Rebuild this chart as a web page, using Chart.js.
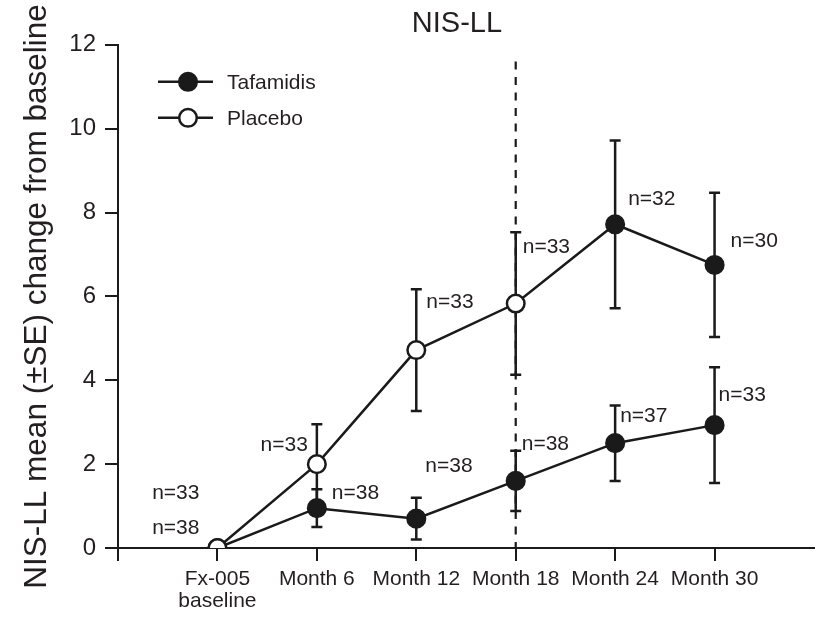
<!DOCTYPE html>
<html><head><meta charset="utf-8">
<script src="https://cdn.jsdelivr.net/npm/chart.js@4.4.1/dist/chart.umd.min.js"></script>
<style>html,body{margin:0;padding:0;background:#fff}#wrap{width:820px;height:620px}</style>
</head><body><div id="wrap"><canvas id="c" width="820" height="620"></canvas></div>
<script>
// ---- data ----
const categories = [['Fx-005', 'baseline'], 'Month 6', 'Month 12', 'Month 18', 'Month 24', 'Month 30'];
const tafamidisMean = [0, 0.95, 0.70, 1.60, 2.50, 2.93];
const tafamidisSE   = [0, 0.45, 0.50, 0.72, 0.90, 1.38];
const placeboMean   = [0, 2.00, 4.72, 5.83, 7.72, 6.75];
const placeboSE     = [0, 0.95, 1.45, 1.70, 2.00, 1.72];
const tafamidisN = ['n=38', 'n=38', 'n=38', 'n=38', 'n=37', 'n=33'];
const placeboN   = ['n=33', 'n=33', 'n=33', 'n=33', 'n=32', 'n=30'];
const yTicks = [0, 2, 4, 6, 8, 10, 12];
const switchIndex = 3;      // Month 18: placebo patients switched to tafamidis
const switchLineTop = 11.6; // top of dashed line, in y units

// ---- style ----
const INK = '#1a1a1a';
const TXT = '#231f20';
const FONT = "'Liberation Sans', Arial, Helvetica, sans-serif";
const nLabelOffsets = {
  placebo:   [[-18, -55, 'right'], [-9, -19, 'right'], [10, -48, 'left'], [7, -56, 'left'], [13, -25, 'left'], [16, -24, 'left']],
  tafamidis: [[-18, -20, 'right'], [15, -15, 'left'], [9, -52, 'left'], [6, -37, 'left'], [5, -27, 'left'], [4, -30, 'left']]
};

Chart.defaults.font.family = FONT;
Chart.defaults.color = TXT;

const toPts = arr => arr.map((v, i) => ({x: i, y: v}));

const datasets = [
  {
    label: 'Placebo', data: toPts(placeboMean), se: placeboSE, nLabels: placeboN, nKey: 'placebo',
    borderColor: INK, borderWidth: 2.5, tension: 0,
    pointRadius: 8.8, pointHoverRadius: 8.8, pointBorderWidth: 2.5, pointBorderColor: INK,
    pointBackgroundColor: placeboMean.map((v, i) => i > switchIndex ? INK : '#ffffff'),
    legendFill: '#ffffff'
  },
  {
    label: 'Tafamidis', data: toPts(tafamidisMean), se: tafamidisSE, nLabels: tafamidisN, nKey: 'tafamidis',
    borderColor: INK, borderWidth: 2.5, tension: 0,
    pointRadius: 8.8, pointHoverRadius: 8.8, pointBorderWidth: 2.5, pointBorderColor: INK,
    pointBackgroundColor: INK,
    legendFill: INK
  }
];

const errorBars = {
  id: 'errorBars',
  beforeDatasetsDraw(chart) {
    const {ctx, scales: {x, y}} = chart;
    ctx.save();
    ctx.strokeStyle = INK; ctx.lineWidth = 2.5; ctx.lineCap = 'butt';
    chart.data.datasets.forEach(ds => {
      ds.data.forEach((p, i) => {
        const e = ds.se[i];
        if (!e) return;
        const px = x.getPixelForValue(p.x);
        const yt = y.getPixelForValue(p.y + e), yb = y.getPixelForValue(p.y - e);
        ctx.beginPath();
        ctx.moveTo(px, yt); ctx.lineTo(px, yb);
        ctx.moveTo(px - 5.5, yt); ctx.lineTo(px + 5.5, yt);
        ctx.moveTo(px - 5.5, yb); ctx.lineTo(px + 5.5, yb);
        ctx.stroke();
      });
    });
    // dashed switch line
    const sx = x.getPixelForValue(switchIndex);
    ctx.setLineDash([8, 7.5]);
    ctx.lineWidth = 2.2;
    ctx.beginPath();
    ctx.moveTo(sx, y.getPixelForValue(switchLineTop));
    ctx.lineTo(sx, y.getPixelForValue(0));
    ctx.stroke();
    ctx.restore();
  }
};

const nLabelPlugin = {
  id: 'nLabels',
  afterDatasetsDraw(chart) {
    const {ctx, scales: {x, y}} = chart;
    ctx.save();
    ctx.font = '21px ' + FONT;
    ctx.fillStyle = TXT;
    ctx.textBaseline = 'middle';
    chart.data.datasets.forEach(ds => {
      const offs = nLabelOffsets[ds.nKey];
      ds.data.forEach((p, i) => {
        const [dx, dy, al] = offs[i];
        ctx.textAlign = al;
        ctx.fillText(ds.nLabels[i], x.getPixelForValue(p.x) + dx, y.getPixelForValue(p.y) + dy);
      });
    });
    ctx.restore();
  }
};

const legendPlugin = {
  id: 'lineLegend',
  afterDraw(chart) {
    const {ctx, chartArea} = chart;
    const order = ['Tafamidis', 'Placebo'];
    ctx.save();
    order.forEach((name, k) => {
      const ds = chart.data.datasets.find(d => d.label === name);
      const yy = chartArea.top + 37 + k * 36;
      const x0 = chartArea.left + 40, x1 = chartArea.left + 95, xm = chartArea.left + 70;
      ctx.strokeStyle = INK; ctx.lineWidth = 2.5;
      ctx.beginPath(); ctx.moveTo(x0, yy); ctx.lineTo(x1, yy); ctx.stroke();
      ctx.beginPath(); ctx.arc(xm, yy, 8.8, 0, Math.PI * 2);
      ctx.fillStyle = ds.legendFill; ctx.fill(); ctx.stroke();
      ctx.fillStyle = TXT; ctx.font = '21px ' + FONT;
      ctx.textAlign = 'left'; ctx.textBaseline = 'middle';
      ctx.fillText(name, chartArea.left + 109, yy + 1);
    });
    ctx.restore();
  }
};

const titleShift = {
  id: 'titleShift',
  afterLayout(chart) {
    const tb = chart.titleBlock, ca = chart.chartArea;
    const w = ca.right - ca.left;
    const c = (ca.left + ca.right) / 2 - 9;
    tb.left = c - w / 2; tb.right = c + w / 2;
  }
};

new Chart(document.getElementById('c'), {
  type: 'line',
  data: {datasets},
  options: {
    responsive: false, animation: false, events: [],
    layout: {autoPadding: false, padding: {left: 0, right: 6, top: 0, bottom: 0}},
    plugins: {
      legend: {display: false},
      tooltip: {enabled: false},
      title: {
        display: true, text: 'NIS-LL', fullSize: false, color: TXT,
        font: {size: 29, weight: 'normal', lineHeight: 1.2},
        padding: {top: 7, bottom: 3}
      }
    },
    scales: {
      x: {
        type: 'linear', min: -1, max: 6,
        afterBuildTicks: s => { s.ticks = [-1, 0, 1, 2, 3, 4, 5].map(v => ({value: v})); },
        afterFit: s => { s.height = 72; },
        ticks: {
          autoSkip: false, maxRotation: 0, minRotation: 0, padding: 7, color: TXT,
          font: {size: 21, lineHeight: 1.05},
          callback: v => (v >= 0 && v < categories.length) ? categories[v] : ''
        },
        grid: {drawOnChartArea: false, drawTicks: true, tickLength: 13, color: INK, lineWidth: 2},
        border: {display: true, color: INK, width: 2}
      },
      y: {
        min: 0, max: 12,
        afterBuildTicks: s => { s.ticks = yTicks.map(v => ({value: v})); },
        afterFit: s => { s.width = 118; },
        ticks: {padding: 9, color: TXT, font: {size: 24}},
        grid: {drawOnChartArea: false, drawTicks: true, tickLength: 13, color: INK, lineWidth: 2},
        border: {display: true, color: INK, width: 2},
        title: {
          display: true, text: 'NIS-LL mean (±SE) change from baseline', color: TXT,
          font: {size: 31.5, lineHeight: 1}, padding: {top: 22, bottom: 0}
        }
      }
    }
  },
  plugins: [errorBars, nLabelPlugin, legendPlugin, titleShift]
});
</script>
</body></html>
